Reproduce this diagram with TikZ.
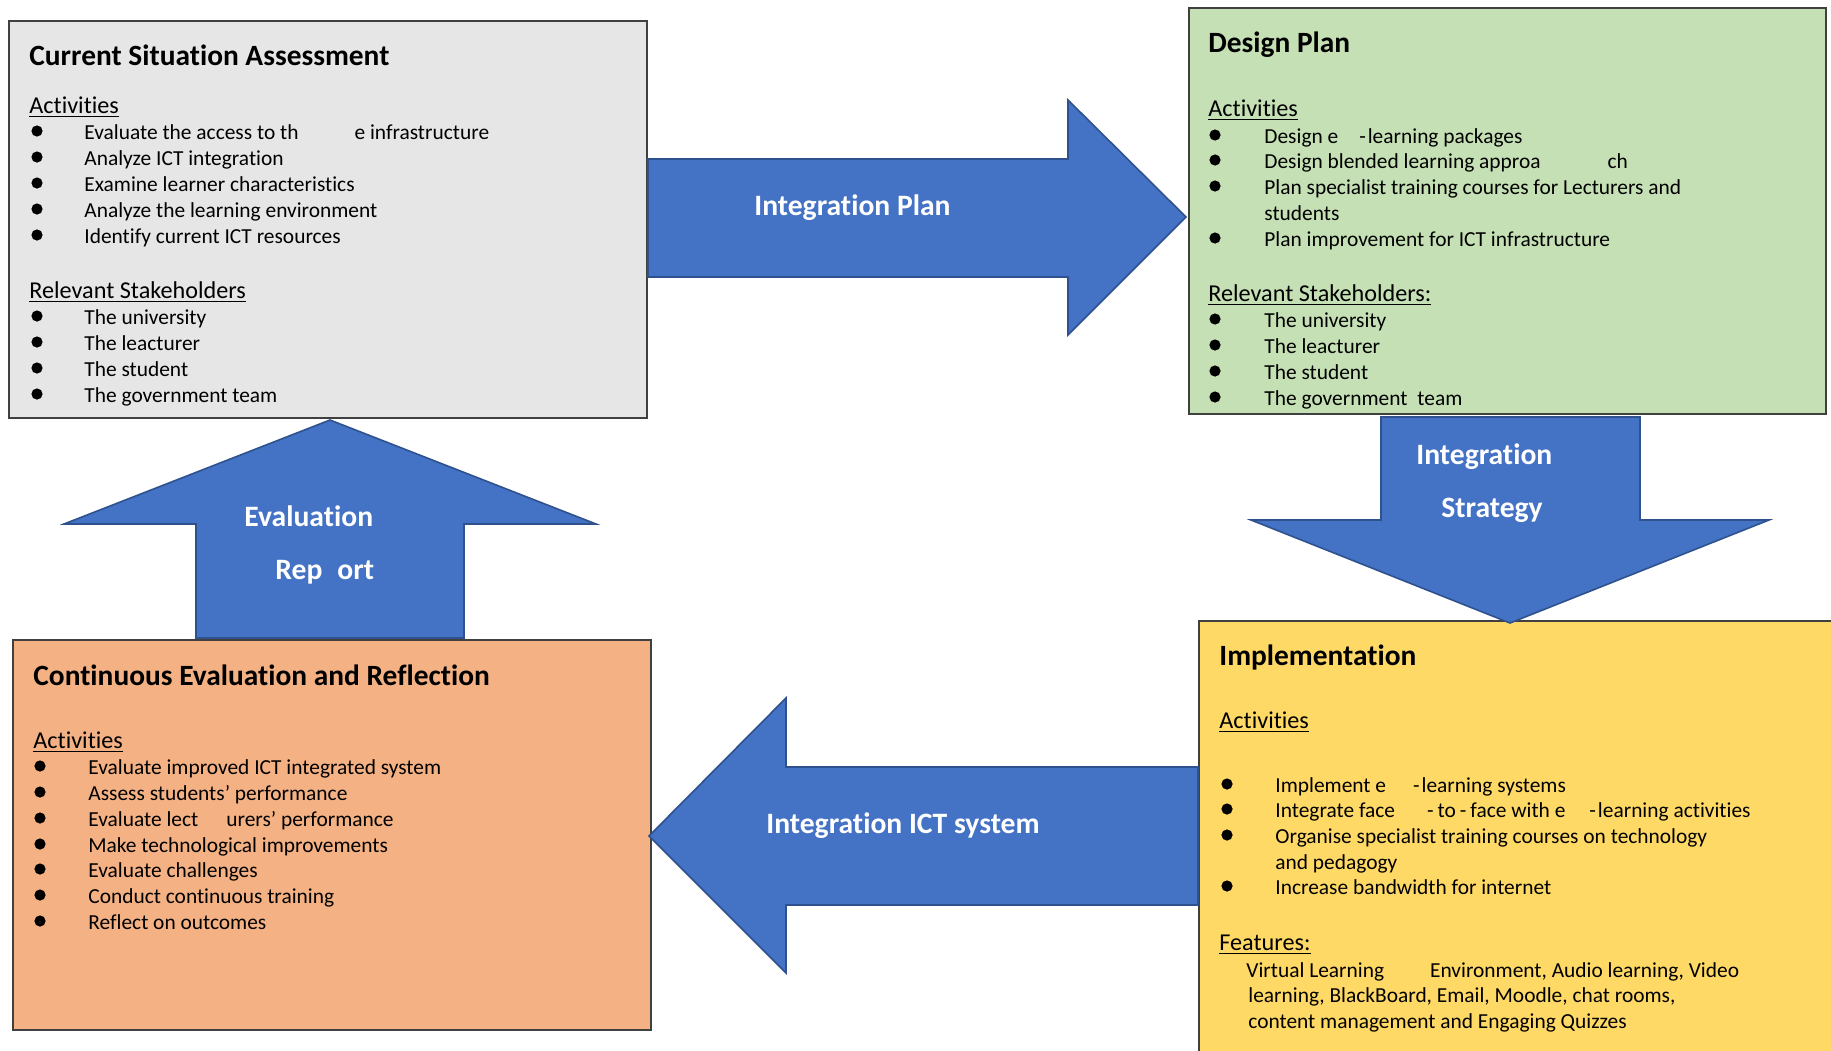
\documentclass[tikz,border=0pt]{standalone}
\usepackage{fontspec}
\setmainfont[Ligatures={NoCommon}]{Carlito}
\definecolor{boxgrey}{HTML}{E7E6E6}
\definecolor{boxgreen}{HTML}{C5E0B4}
\definecolor{boxorange}{HTML}{F4B183}
\definecolor{boxyellow}{HTML}{FFD966}
\definecolor{arrowblue}{HTML}{4472C4}
\definecolor{arrowedge}{HTML}{2F528F}
\definecolor{boxedge}{HTML}{404040}
\tikzset{
  box/.style={draw=boxedge, line width=0.8pt, anchor=north west, inner sep=0pt},
  ttl/.style={anchor=base west, inner sep=0pt, font=\fontsize{14.7}{16}\selectfont\bfseries},
  txt/.style={anchor=base west, inner sep=0pt, font=\fontsize{10.7}{13}\selectfont},
  hd/.style={anchor=base west, inner sep=0pt, font=\fontsize{12.1}{14}\selectfont},
  dot/.style={circle, fill=black, inner sep=0pt, minimum size=5.6pt},
  blk/.style={fill=arrowblue, draw=arrowedge, line width=0.8pt, line join=miter},
  alab/.style={anchor=base west, inner sep=0pt, text=white, font=\fontsize{14.8}{16}\selectfont\bfseries}
}
\begin{document}
\begin{tikzpicture}[x=0.5pt,y=-0.5pt]
\useasboundingbox (0,0) rectangle (1831,1050);
\fill[white] (0,0) rectangle (1831,1050);

% ---------- boxes ----------
\node[box, fill=boxgrey,   minimum width=319pt,   minimum height=198.5pt] (csa) at (8,20) {};
\node[box, fill=boxgreen,  minimum width=318.5pt, minimum height=203pt]   (dp)  at (1188,7) {};
\node[box, fill=boxorange, minimum width=319pt,   minimum height=195pt]   (cer) at (12,639) {};
\node[box, fill=boxyellow, minimum width=330pt,   minimum height=230pt]   (imp) at (1198,620) {};

% ---------- Current Situation Assessment ----------
\node[ttl] (csa-t) at (29,65) {Current Situation Assessment};
\node[hd] (csa-h1) at (29,113) {\underline{Activities}};
\foreach \yy/\tx [count=\i] in {139/{Evaluate the access to th\hspace{28pt}e infrastructure},
  165/{Analyze ICT integration}, 191/{Examine learner characteristics},
  217/{Analyze the learning environment}, 243/{Identify current ICT resources}}{
  \node[txt] (csa-a\i) at (84,\yy) {\tx};
  \node[dot] (csa-ad\i) at (37,\yy-8) {};
}
\node[hd] (csa-h2) at (29,298) {\underline{Relevant Stakeholders}};
\foreach \yy/\tx [count=\i] in {324/{The university}, 350/{The leacturer},
  376/{The student}, 402/{The government team}}{
  \node[txt] (csa-s\i) at (84,\yy) {\tx};
  \node[dot] (csa-sd\i) at (37,\yy-8) {};
}

% ---------- Design Plan ----------
\node[ttl] (dp-t) at (1208,52) {Design Plan};
\node[hd] (dp-h1) at (1208,116) {\underline{Activities}};
\foreach \yy/\tx [count=\i] in {143/{Design e\hspace{10.5pt}-\kern1pt learning packages},
  168/{Design blended learning approa\hspace{33.5pt}ch},
  194/{Plan specialist training courses for Lecturers and},
  246/{Plan improvement for ICT infrastructure}}{
  \node[txt] (dp-a\i) at (1264,\yy) {\tx};
  \node[dot] (dp-ad\i) at (1215,\yy-8) {};
}
\node[txt] (dp-a3b) at (1264,220) {students};
\node[hd] (dp-h2) at (1208,301) {\underline{Relevant Stakeholders:}};
\foreach \yy/\tx [count=\i] in {327/{The university}, 353/{The leacturer},
  379/{The student}, 405/{The government\hspace{5pt}team}}{
  \node[txt] (dp-s\i) at (1264,\yy) {\tx};
  \node[dot] (dp-sd\i) at (1215,\yy-8) {};
}

% ---------- Implementation ----------
\node[ttl] (imp-t) at (1219,665) {Implementation};
\node[hd] (imp-h1) at (1219,728) {\underline{Activities}};
\foreach \yy/\tx [count=\i] in {792/{Implement e\hspace{13.5pt}-\kern1pt learning systems},
  817/{Integrate face\hspace{16pt}-\kern2pt to\kern2pt -\kern2pt face with e\hspace{12pt}-\kern1pt learning activities},
  843/{Organise specialist training courses on technology},
  894/{Increase bandwidth for internet}}{
  \node[txt] (imp-a\i) at (1275,\yy) {\tx};
  \node[dot] (imp-ad\i) at (1227,\yy-8) {};
}
\node[txt] (imp-a3b) at (1275,869) {and pedagogy};
\node[hd] (imp-h2) at (1219,950) {\underline{Features:}};
\node[txt] (imp-f1) at (1246,977) {Virtual Learning\hspace{23pt}Environment, Audio learning, Video};
\node[txt] (imp-f2) at (1248,1002) {learning, BlackBoard, Email, Moodle, chat rooms,};
\node[txt] (imp-f3) at (1248,1028) {content management and Engaging Quizzes};

% ---------- Continuous Evaluation and Reflection ----------
\node[ttl] (cer-t) at (33,685) {Continuous Evaluation and Reflection};
\node[hd] (cer-h1) at (33,748) {\underline{Activities}};
\foreach \yy/\tx [count=\i] in {774/{Evaluate improved ICT integrated system},
  800/{Assess students’ performance}, 826/{Evaluate lect\hspace{14pt}urers’ performance},
  852/{Make technological improvements}, 877/{Evaluate challenges},
  903/{Conduct continuous training}, 929/{Reflect on outcomes}}{
  \node[txt] (cer-a\i) at (88,\yy) {\tx};
  \node[dot] (cer-ad\i) at (40,\yy-8) {};
}

% ---------- block arrows ----------
\draw[blk] (648,159) -- (1068,159) -- (1068,100) -- (1186,217) -- (1068,335) -- (1068,277) -- (648,277) -- cycle;
\draw[blk] (1381,417) -- (1640,417) -- (1640,520) -- (1769,520) -- (1510,623) -- (1251,520) -- (1381,520) -- cycle;
\draw[blk] (196,638) -- (196,524) -- (64,524) -- (330,420) -- (596,524) -- (464,524) -- (464,638) -- cycle;
\draw[blk] (1198,767) -- (786,767) -- (786,698) -- (649,836) -- (786,973) -- (786,905) -- (1198,905) -- cycle;

\node[alab] (l-plan) at (754,215) {Integration Plan};
\node[alab] (l-strat1) at (1416,464) {Integration};
\node[alab] (l-strat2) at (1441,517) {Strategy};
\node[alab] (l-eval1) at (244,526) {Evaluation};
\node[alab] (l-eval2) at (275,579) {Rep\hspace{7.5pt}ort};
\node[alab] (l-ict) at (766,833) {Integration ICT system};
\end{tikzpicture}
\end{document}
